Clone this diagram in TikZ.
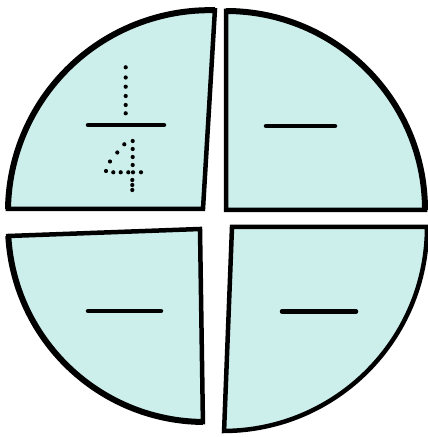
\documentclass[tikz,border=0pt]{standalone}
\definecolor{piecefill}{RGB}{205,239,236}
\tikzset{
  piece/.style={fill=piecefill, draw=black, line width=4.5pt, line join=miter},
  rim/.style={draw=black, line width=6pt, line cap=butt},
  fracbar/.style={draw=black, line width=4.5pt, line cap=round},
  tracedot/.style={fill=black}
}
\begin{document}
\begin{tikzpicture}[x=1pt,y=1pt]
\useasboundingbox (0,0) rectangle (428,437);
% top-left quarter
\coordinate (tlc) at (203,228);
\draw[piece] (tlc) -- (8,228) arc[start angle=179.1, end angle=88.6, radius=202] -- cycle;
\draw[rim] (8,228) arc[start angle=179.1, end angle=88.6, radius=202];
% top-right quarter
\coordinate (trc) at (226,227);
\draw[piece] (trc) -- (226,426) arc[start angle=90, end angle=0, radius=199] -- cycle;
\draw[rim] (226,426) arc[start angle=90, end angle=0, radius=199];
% bottom-left quarter
\coordinate (blc) at (200,208);
\draw[piece] (blc) -- (8.3,201) arc[start angle=183.2, end angle=269.4, radius=197] -- cycle;
\draw[rim] (8.3,201) arc[start angle=183.2, end angle=269.4, radius=197];
% bottom-right quarter
\coordinate (brc) at (232,210);
\draw[piece] (brc) -- (427,210) arc[start angle=0, end angle=-89.7, radius=204] -- cycle;
% fraction bars
\draw[fracbar] (88,312) -- (164,312);
\draw[fracbar] (266,311) -- (335,311);
\draw[fracbar] (88,126) -- (161,126);
\draw[fracbar] (282,125.5) -- (356,125.5);
% dotted 1
\foreach \y in {67.3,77.5,86.7,96,105,113.3}
  \fill[tracedot] (125.7,437-\y) circle (2.1);
% dotted 4
\foreach \p/\q in {132.7/141, 124.3/144.3, 132.7/149, 117.3/152.5, 132.7/157, 110/161.5,
  132.7/165, 106/171, 113.3/172.3, 120.7/172.3, 128.3/172.3, 133/172.3, 141/172.3,
  132.3/180, 132.3/185, 132.3/190}
  \fill[tracedot] (\p,437-\q) circle (2.1);
\end{tikzpicture}
\end{document}
